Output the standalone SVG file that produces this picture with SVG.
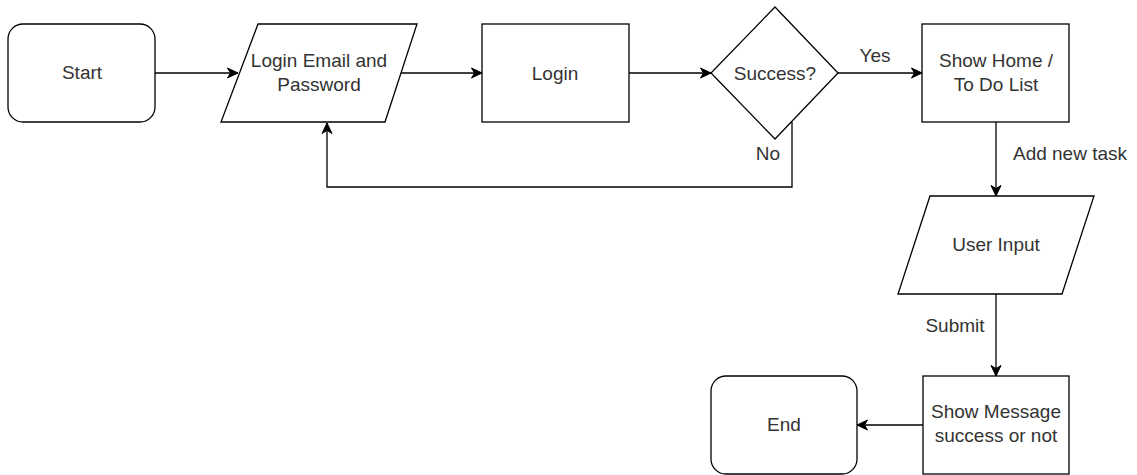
<svg xmlns="http://www.w3.org/2000/svg" width="1137" height="475" viewBox="0 0 1137 475">
  <defs>
    <style>
      .shape { fill: #ffffff; stroke: #000000; stroke-width: 1.3; }
      .edge { fill: none; stroke: #000000; stroke-width: 1.3; }
      .label { font-family: "Liberation Sans", Arial, sans-serif; font-size: 19px; fill: #333333; text-anchor: middle; }
    </style>
    <marker id="arrow" markerUnits="userSpaceOnUse" markerWidth="14" markerHeight="12" viewBox="-11 -6 12 12" refX="0" refY="0" orient="auto">
      <path d="M0,0 L-10.5,-5 L-7.5,0 L-10.5,5 Z" fill="#000000" stroke="#000000" stroke-width="1"/>
    </marker>
  </defs>
  <rect width="1137" height="475" fill="#ffffff"/>

  <!-- connectors -->
  <g id="connectors">
    <path class="edge" d="M155,73 L238,73" marker-end="url(#arrow)"/>
    <path class="edge" d="M401,73 L482,73" marker-end="url(#arrow)"/>
    <path class="edge" d="M629,73 L711,73" marker-end="url(#arrow)"/>
    <path class="edge" d="M838,73 L922,73" marker-end="url(#arrow)"/>
    <path class="edge" d="M792,122 L792,187 L327,187 L327,123" marker-end="url(#arrow)"/>
    <path class="edge" d="M996,122 L996,196" marker-end="url(#arrow)"/>
    <path class="edge" d="M996,294 L996,376" marker-end="url(#arrow)"/>
    <path class="edge" d="M923,425 L857,425" marker-end="url(#arrow)"/>
    <text class="label" x="875" y="62">Yes</text>
    <text class="label" x="768" y="160">No</text>
    <text class="label" x="1070" y="160">Add new task</text>
    <text class="label" x="955" y="332">Submit</text>
  </g>

  <g id="start">
    <rect class="shape" x="8" y="24" width="147" height="98" rx="15" ry="15"/>
    <text class="label" x="82" y="79">Start</text>
  </g>

  <g id="login-input">
    <polygon class="shape" points="258,24 417,24 385,122 221,122"/>
    <text class="label" x="319" y="67">Login Email and</text>
    <text class="label" x="319" y="91">Password</text>
  </g>

  <g id="login">
    <rect class="shape" x="482" y="24" width="147" height="98"/>
    <text class="label" x="555" y="80">Login</text>
  </g>

  <g id="success">
    <polygon class="shape" points="775,7 838,73 775,139 711,73"/>
    <text class="label" x="775" y="80">Success?</text>
  </g>

  <g id="home">
    <rect class="shape" x="922" y="24" width="147" height="98"/>
    <text class="label" x="996" y="67">Show Home /</text>
    <text class="label" x="996" y="91">To Do List</text>
  </g>

  <g id="user-input">
    <polygon class="shape" points="930,196 1094,196 1062,294 898,294"/>
    <text class="label" x="996" y="251">User Input</text>
  </g>

  <g id="message">
    <rect class="shape" x="923" y="376" width="146" height="98"/>
    <text class="label" x="996" y="418">Show Message</text>
    <text class="label" x="996" y="442">success or not</text>
  </g>

  <g id="end">
    <rect class="shape" x="711" y="376" width="146" height="98" rx="15" ry="15"/>
    <text class="label" x="784" y="431">End</text>
  </g>
</svg>
